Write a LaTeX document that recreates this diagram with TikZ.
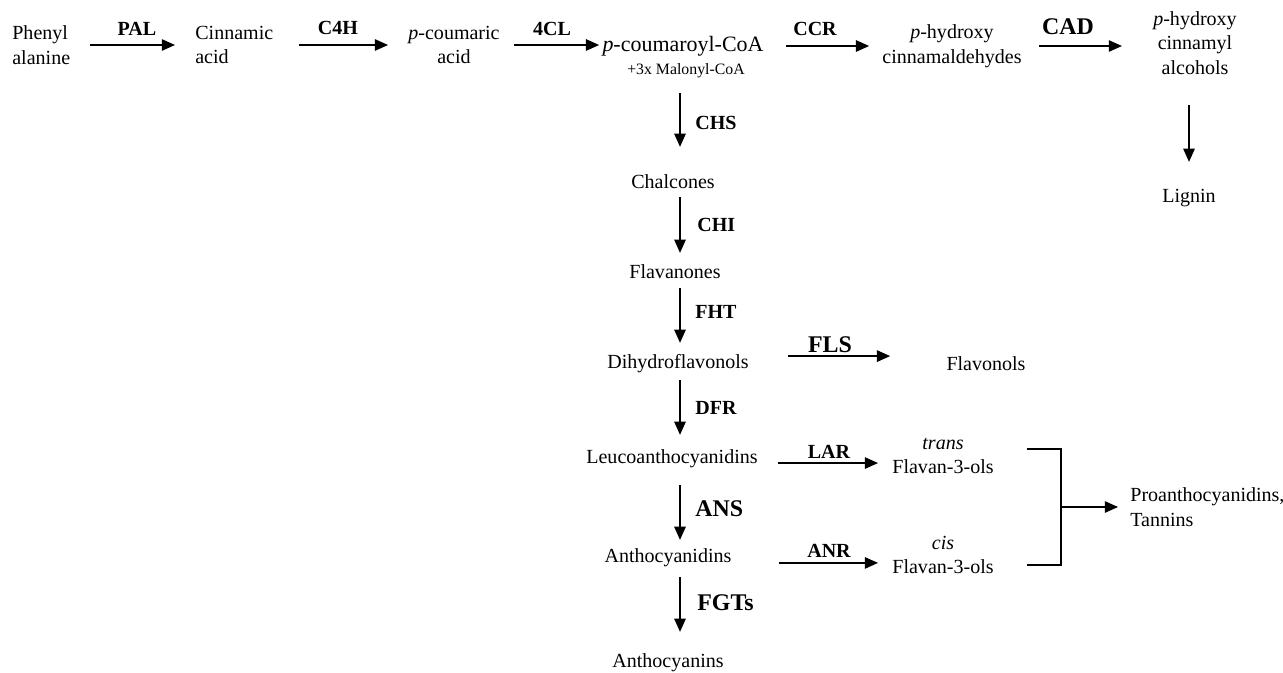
\documentclass[tikz,border=0pt]{standalone}
\usepackage{fontspec}
\setmainfont{Liberation Serif}
\usetikzlibrary{arrows.meta,positioning,calc}

\begin{document}
\begin{tikzpicture}[
  x=0.02cm, y=-0.02cm,
  txt/.style={font=\fontsize{11.4}{14}\selectfont, inner sep=0pt},
  one/.style={txt, text height=7.5pt, text depth=2.5pt},
  enz/.style={font=\fontsize{11.4}{14}\selectfont\bfseries, inner sep=0pt},
  bigenz/.style={font=\fontsize{13.6}{16}\selectfont\bfseries, inner sep=0pt},
  arr/.style={-{Triangle[length=7.5pt,width=6.5pt]}, line width=0.8pt},
  bracket/.style={line width=0.9pt}
]
\useasboundingbox (0,0) rectangle (1283,672);
\coordinate (axis) at (680,0);
\coordinate (jn) at (1061,507);
% top row: phenylpropanoid core
\node[txt, align=left, anchor=west] (phe) at (12,45) {Phenyl\\alanine};
\node[txt, align=left, anchor=west] (cin) at (195,45) {Cinnamic\\acid};
\node[txt, align=center] (pca) at (454,45) {\emph{p}-coumaric\\acid};
\node[txt, font=\fontsize{12.5}{14}\selectfont] (coa) at (683,46) {\emph{p}-coumaroyl-CoA};
\node[txt, font=\fontsize{9}{10}\selectfont, text height=6.5pt, text depth=2pt] (mal) at (686,71) {+3x Malonyl-CoA};
\node[txt, align=center] (hyd) at (952,46) {\emph{p}-hydroxy\\cinnamaldehydes};
\node[txt, align=center] (alc) at (1195,43) {\emph{p}-hydroxy\\cinnamyl\\alcohols};
\node[one] (lig) at (1189,198) {Lignin};
% flavonoid column
\node[one] (chal) at (673,184) {Chalcones};
\node[one] (flav) at (675,274) {Flavanones};
\node[one] (dih) at (678,364) {Dihydroflavonols};
\node[one] (leu) at (672,459) {Leucoanthocyanidins};
\node[one] (ant) at (668,558) {Anthocyanidins};
\node[one] (acy) at (668,663) {Anthocyanins};
\node[one] (flo) at (986,366) {Flavonols};
\node[txt, align=center] (trf) at (943,456) {\emph{trans}\\Flavan-3-ols};
\node[txt, align=center] (cif) at (943,555) {\emph{cis}\\Flavan-3-ols};
\node[txt, align=left, anchor=west] (pro) at (1130,507) {Proanthocyanidins,\\Tannins};
% enzymes
\node[enz] (pal) at (137,29) {PAL};
\node[enz] (c4h) at (338,28) {C4H};
\node[enz] (fcl) at (552,29) {4CL};
\node[enz] (ccr) at (815,29) {CCR};
\node[bigenz] (cad) at (1068,27) {CAD};
\node[enz, anchor=west] (chs) at (695,123) {CHS};
\node[enz, anchor=west] (chi) at (697,225) {CHI};
\node[enz, anchor=west] (fht) at (695,312) {FHT};
\node[bigenz] (fls) at (830,345) {FLS};
\node[enz, anchor=west] (dfr) at (695,408) {DFR};
\node[enz] (lar) at (829,452) {LAR};
\node[bigenz, anchor=west] (ans) at (695,509) {ANS};
\node[enz] (anr) at (829,551) {ANR};
\node[bigenz, anchor=west] (fgt) at (697,603) {FGTs};
% horizontal steps
\draw[arr, shorten <=0.38cm, shorten >=0.40cm] (phe.east) -- (phe.east -| cin.west);
\draw[arr, shorten <=0.50cm, shorten >=0.40cm] (cin.east) -- (cin.east -| pca.west);
\draw[arr, shorten <=0.28cm, shorten >=0.06cm] (pca.east) -- (pca.east -| coa.west);
\draw[arr, shorten <=0.44cm, shorten >=0.26cm] (coa.east |- hyd.west) -- (hyd.west);
\draw[arr, shorten <=0.34cm, shorten >=0.62cm] (hyd.east) -- (hyd.east -| alc.west);
\draw[arr, shorten <=0.78cm, shorten >=1.12cm] ([yshift=4.5pt]dih.east) -- ([yshift=4.5pt]dih.east -| flo.west);
\draw[arr, shorten <=0.40cm, shorten >=0.28cm] ([yshift=-2.3pt]leu.east) -- ([yshift=-2.3pt]leu.east -| trf.west);
\draw[arr, shorten <=0.94cm, shorten >=0.28cm] ([yshift=-2.8pt]ant.east) -- ([yshift=-2.8pt]ant.east -| cif.west);
% vertical steps
\draw[arr, shorten <=0.29cm, shorten >=0.56cm] (mal.south -| axis) -- (chal.north -| axis);
\draw[arr, shorten <=0.08cm, shorten >=0.24cm] (chal.south -| axis) -- (flav.north -| axis);
\draw[arr, shorten <=0.10cm, shorten >=0.24cm] (flav.south -| axis) -- (dih.north -| axis);
\draw[arr, shorten <=0.14cm, shorten >=0.30cm] (dih.south -| axis) -- (leu.north -| axis);
\draw[arr, shorten <=0.34cm, shorten >=0.18cm] (leu.south -| axis) -- (ant.north -| axis);
\draw[arr, shorten <=0.20cm, shorten >=0.44cm] (ant.south -| axis) -- (acy.north -| axis);
\draw[arr, shorten <=0.60cm, shorten >=0.54cm] (alc.south -| lig.north) -- (lig.north);
% flavan-3-ols join
\draw[bracket] ([shift={(33,-7)}]trf.east) -| (jn) |- ([shift={(33,10)}]cif.east);
\draw[arr, shorten >=0.24cm] (jn) -- (pro.west);
\end{tikzpicture}
\end{document}
